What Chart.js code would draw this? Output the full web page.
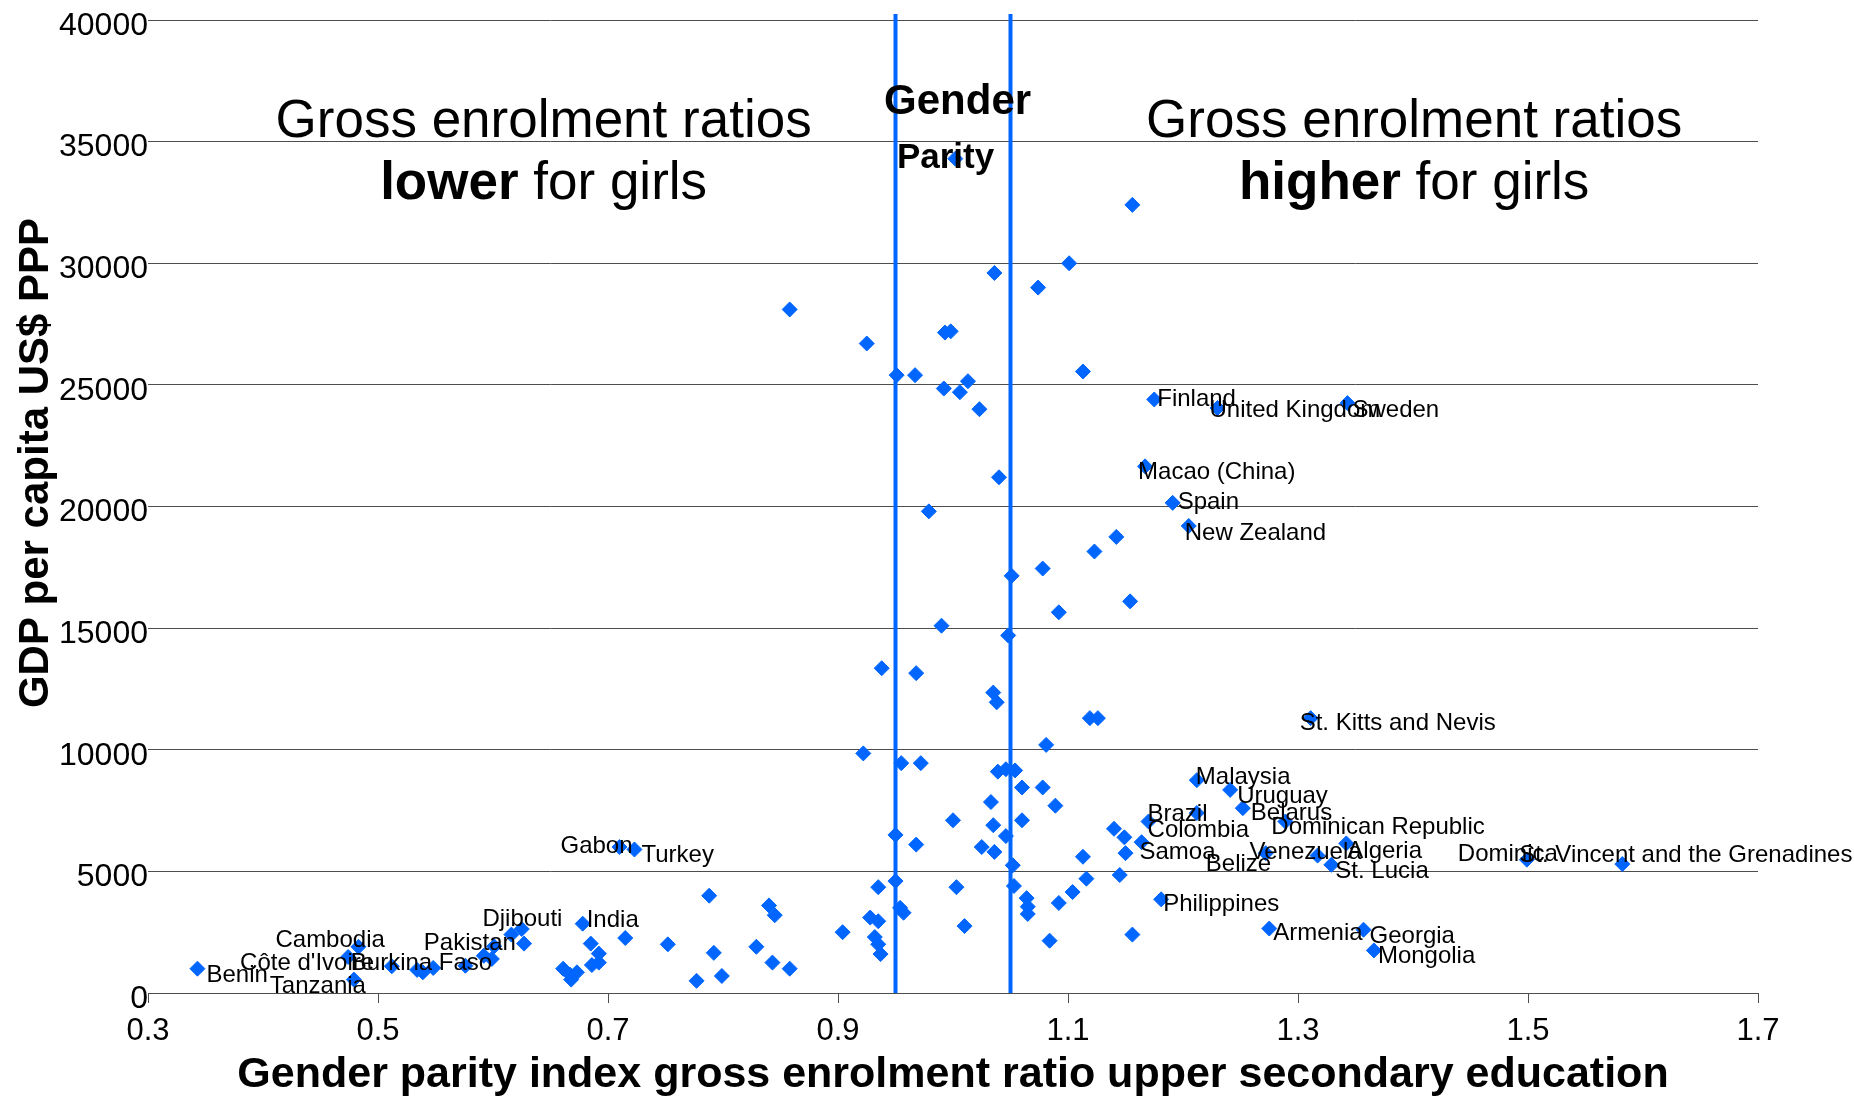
<!DOCTYPE html>
<html>
<head>
<meta charset="utf-8">
<title>Gender parity index vs GDP per capita</title>
<script src="https://cdn.jsdelivr.net/npm/chart.js@4.4.0/dist/chart.umd.min.js"></script>
<style>
  html, body { margin: 0; padding: 0; background: #fff; }
  #wrap { width: 1854px; height: 1098px; position: relative; }
</style>
</head>
<body>
<div id="wrap"><canvas id="gpiChart" width="1854" height="1098"></canvas></div>
<script>
// labelled countries
const countries = ["Benin", "Tanzania", "Côte d'Ivoire", "Cambodia", "Burkina Faso", "Pakistan",
  "Djibouti", "India", "Gabon", "Turkey", "Finland", "United Kingdom", "Sweden", "Macao (China)",
  "Spain", "New Zealand", "St. Kitts and Nevis", "Malaysia", "Uruguay", "Belarus", "Brazil",
  "Colombia", "Dominican Republic", "Samoa", "Belize", "Venezuela", "Algeria", "St. Lucia",
  "Dominica", "St. Vincent and the Grenadines", "Philippines", "Armenia", "Georgia", "Mongolia"];
const countryGpi = [0.343, 0.479, 0.474, 0.483, 0.512, 0.592, 0.616, 0.678, 0.710, 0.723,
  1.175, 1.230, 1.343, 1.167, 1.191, 1.205, 1.311, 1.212, 1.241, 1.252,
  1.170, 1.164, 1.289, 1.150, 1.272, 1.317, 1.342, 1.329, 1.499, 1.582,
  1.181, 1.275, 1.357, 1.366];
const countryGdp = [1000, 550, 1480, 1900, 1100, 1530, 2400, 2850, 6000, 5900,
  24400, 24050, 24250, 21650, 20150, 19200, 11300, 8750, 8350, 7600,
  7050, 6200, 7050, 5750, 5750, 5650, 6150, 5270, 5480, 5300,
  3850, 2650, 2600, 1750];

// unlabelled countries
const otherGpi = [
  0.534, 0.539, 0.548, 0.576, 0.599, 0.601, 0.625, 0.627, 0.661, 0.667,
  0.673, 0.668, 0.685, 0.692, 0.692, 0.686, 0.715, 0.752, 0.777, 0.788,
  0.792, 0.799, 0.829, 0.840, 0.845, 0.843, 0.858, 0.858, 0.904, 0.922,
  0.925, 0.928, 0.932, 0.935, 0.935, 0.937, 0.935, 0.938, 0.950, 0.950,
  0.951, 0.954, 0.957, 0.955, 0.967, 0.968, 0.968, 0.972, 0.979, 0.990,
  0.992, 0.993, 0.998, 1.000, 1.002, 1.003, 1.006, 1.010, 1.013, 1.023,
  1.025, 1.033, 1.035, 1.035, 1.036, 1.036, 1.038, 1.039, 1.040, 1.046,
  1.046, 1.048, 1.051, 1.052, 1.053, 1.054, 1.060, 1.060, 1.064, 1.065,
  1.065, 1.074, 1.078, 1.078, 1.081, 1.084, 1.089, 1.092, 1.092, 1.101,
  1.104, 1.113, 1.113, 1.116, 1.119, 1.126, 1.123, 1.140, 1.142, 1.145,
  1.149, 1.154, 1.156, 1.156, 1.212
];
const otherGdp = [
  950, 850, 1030, 1120, 1400, 1920, 2630, 2030, 1000, 750,
  850, 550, 2030, 1620, 1250, 1150, 2260, 2000, 500, 4000,
  1650, 700, 1900, 3600, 3200, 1250, 1000, 28100, 2500, 9850,
  26700, 3100, 2300, 2950, 2000, 1600, 4350, 13350, 4600, 6500,
  25400, 3500, 3300, 9450, 25400, 13150, 6100, 9450, 19800, 15100,
  24850, 27150, 27200, 7100, 34300, 4350, 24700, 2750, 25150, 24000,
  6000, 7850, 6900, 12350, 5800, 29600, 11950, 9100, 21200, 9200,
  6450, 14700, 17150, 5250, 4400, 9150, 8450, 7100, 3900, 3550,
  3250, 29000, 17450, 8450, 10200, 2150, 7700, 15650, 3700, 30000,
  4150, 25550, 5600, 4700, 11300, 11300, 18150, 6750, 18750, 4850,
  6400, 16100, 32400, 2400, 7400
];

const parityBounds = [0.95, 1.05];
const parityLineTop = 40250;
const xTicks = [0.3, 0.5, 0.7, 0.9, 1.1, 1.3, 1.5, 1.7];
const yTicks = [0, 5000, 10000, 15000, 20000, 25000, 30000, 35000, 40000];

// label placement, px offset from the point (left edge, middle)
const labelOffset = {
  "Benin": [9, 7], "Tanzania": [-84, 7], "Côte d'Ivoire": [-108, 6], "Cambodia": [-83, -6],
  "Burkina Faso": [-41, -3], "Pakistan": [-60, -12], "Djibouti": [-29, -15], "India": [4, -3],
  "Gabon": [-59, -1], "Turkey": [7, 6], "Finland": [3, 0], "United Kingdom": [-8, 2],
  "Sweden": [5, 7], "Macao (China)": [-7, 6], "Spain": [5, 0], "New Zealand": [-4, 7],
  "St. Kitts and Nevis": [-11, 5], "Malaysia": [-1, -3], "Uruguay": [7, 6], "Belarus": [8, 5],
  "Brazil": [-1, -7], "Colombia": [6, -12], "Dominican Republic": [-14, 6], "Samoa": [14, -1],
  "Belize": [-60, 11], "Venezuela": [-68, -3], "Algeria": [1, 8], "St. Lucia": [4, 7],
  "Dominica": [-69, -5], "St. Vincent and the Grenadines": [-103, -9], "Philippines": [2, 5],
  "Armenia": [4, 5], "Georgia": [6, 7], "Mongolia": [4, 6]
};

const FONT = '"Liberation Sans", Arial, Helvetica, sans-serif';
const BLUE = "#0066ff";

const points = countryGpi.map((v, i) => ({ x: v, y: countryGdp[i] }))
  .concat(otherGpi.map((v, i) => ({ x: v, y: otherGdp[i] })));

function drawRuns(ctx, runs, size, cx, cy) {
  let total = 0;
  runs.forEach((r) => {
    ctx.font = r[1] + " " + size + "px " + FONT;
    total += ctx.measureText(r[0]).width;
  });
  let xx = cx - total / 2;
  runs.forEach((r) => {
    ctx.font = r[1] + " " + size + "px " + FONT;
    ctx.fillText(r[0], xx, cy);
    xx += ctx.measureText(r[0]).width;
  });
}

const textPlugin = {
  id: "textPlugin",
  afterDatasetsDraw(chart) {
    const { ctx, scales: { x, y } } = chart;
    ctx.save();
    ctx.fillStyle = "#000";
    ctx.textBaseline = "middle";
    ctx.textAlign = "left";

    // country labels
    ctx.font = "24px " + FONT;
    countries.forEach((name, i) => {
      const off = labelOffset[name];
      ctx.fillText(name, x.getPixelForValue(countryGpi[i]) + off[0], y.getPixelForValue(countryGdp[i]) + off[1]);
    });

    // side notes
    drawRuns(ctx, [["Gross enrolment ratios", "normal"]], 53, x.getPixelForValue(0.644), y.getPixelForValue(35800));
    drawRuns(ctx, [["lower", "bold"], [" for girls", "normal"]], 53, x.getPixelForValue(0.644), y.getPixelForValue(33250));
    drawRuns(ctx, [["Gross enrolment ratios", "normal"]], 53, x.getPixelForValue(1.401), y.getPixelForValue(35800));
    drawRuns(ctx, [["higher", "bold"], [" for girls", "normal"]], 53, x.getPixelForValue(1.401), y.getPixelForValue(33250));
    drawRuns(ctx, [["Gender", "bold"]], 42, x.getPixelForValue(1.004), y.getPixelForValue(36600));
    drawRuns(ctx, [["Parity", "bold"]], 35, x.getPixelForValue(0.9935), y.getPixelForValue(34320));

    // y axis title
    ctx.translate(36, 463);
    ctx.rotate(-Math.PI / 2);
    ctx.textAlign = "center";
    ctx.font = "bold 42px " + FONT;
    ctx.fillText("GDP per capita US$ PPP", 0, 0);
    ctx.restore();
  }
};

const parityDatasets = parityBounds.map((v) => ({
  type: "scatter",
  data: [{ x: v, y: 0 }, { x: v, y: parityLineTop }],
  showLine: true,
  borderColor: BLUE,
  borderWidth: 4,
  pointRadius: 0,
  clip: false
}));

new Chart(document.getElementById("gpiChart"), {
  type: "scatter",
  data: {
    datasets: [
      {
        label: "Countries",
        data: points,
        pointStyle: "rectRot",
        pointRadius: 7.5,
        pointBackgroundColor: BLUE,
        pointBorderColor: BLUE,
        pointBorderWidth: 1,
        clip: false
      },
      ...parityDatasets
    ]
  },
  options: {
    responsive: false,
    animation: false,
    events: [],
    layout: { padding: { left: 0, right: 96, top: 20, bottom: 0 } },
    plugins: { legend: { display: false }, tooltip: { enabled: false } },
    scales: {
      x: {
        type: "linear",
        position: "bottom",
        min: 0.3,
        max: 1.7,
        afterBuildTicks: (s) => { s.ticks = xTicks.map((v) => ({ value: v })); },
        afterFit: (s) => { s.height = 105; },
        grid: { drawOnChartArea: false, drawTicks: true, tickLength: 10, color: "#4d4d4d", lineWidth: 1 },
        border: { display: true, color: "#4d4d4d", width: 1 },
        ticks: {
          color: "#000",
          padding: 10,
          maxRotation: 0,
          font: { family: FONT, size: 31 },
          callback: (v) => Number(v).toFixed(1)
        },
        title: {
          display: true,
          text: "Gender parity index gross enrolment ratio upper secondary education",
          color: "#000",
          font: { family: FONT, size: 43, weight: "bold", lineHeight: 1 },
          padding: { top: 0, bottom: 1 }
        }
      },
      y: {
        type: "linear",
        position: "left",
        min: 0,
        max: 40000,
        afterBuildTicks: (s) => { s.ticks = yTicks.map((v) => ({ value: v })); },
        afterFit: (s) => { s.width = 148; },
        grid: { drawTicks: false, color: "#4d4d4d", lineWidth: 1 },
        border: { display: false },
        ticks: {
          color: "#000",
          padding: 0,
          labelOffset: 6,
          font: { family: FONT, size: 32 },
          callback: (v) => String(v)
        }
      }
    }
  },
  plugins: [textPlugin]
});
</script>
</body>
</html>
